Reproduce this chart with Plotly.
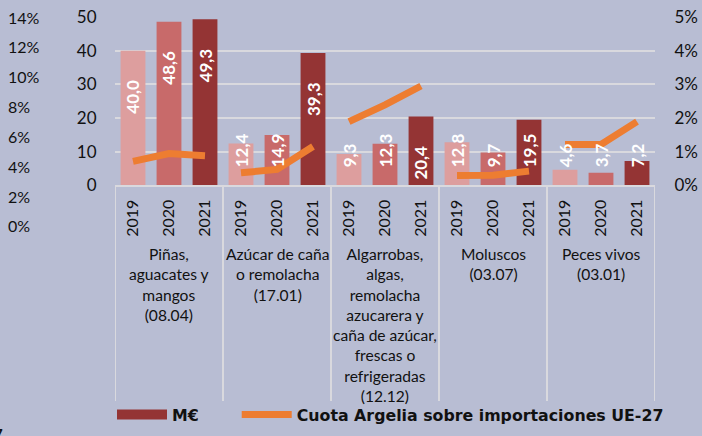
import plotly.graph_objects as go

# ---------------- data ----------------
groups = [
    "Piñas,<br>aguacates y<br>mangos<br>(08.04)",
    "Azúcar de caña<br>o remolacha<br>(17.01)",
    "Algarrobas,<br>algas,<br>remolacha<br>azucarera y<br>caña de azúcar,<br>frescas o<br>refrigeradas<br>(12.12)",
    "Moluscos<br>(03.07)",
    "Peces vivos<br>(03.01)",
]
years = ["2019", "2020", "2021"]
value_2019 = [40.0, 12.4, 9.3, 12.8, 4.6]
value_2020 = [48.6, 14.9, 12.3, 9.7, 3.7]
value_2021 = [49.3, 39.3, 20.4, 19.5, 7.2]
share_2019 = [0.71, 0.37, 1.89, 0.29, 1.21]
share_2020 = [0.94, 0.47, 2.39, 0.30, 1.21]
share_2021 = [0.88, 1.15, 2.95, 0.42, 1.89]
left_pct_ticks = [0, 2, 4, 6, 8, 10, 12, 14]
left_m_ticks = [0, 10, 20, 30, 40, 50]
right_pct_ticks = [0, 1, 2, 3, 4, 5]

year_colors = {"2019": "#DD9E9E", "2020": "#C86A6A", "2021": "#943434"}
BG = "#B8BDD3"
GRID = "#D9D9DE"
ORANGE = "#ED7D31"
FONT = "Lato"
INK = "#111111"

n_years = len(years)
series = {"2019": value_2019, "2020": value_2020, "2021": value_2021}
shares = [share_2019, share_2020, share_2021]

def pos(gi, yi):
    return gi * n_years + yi

fig = go.Figure()

for yi, y in enumerate(years):
    fig.add_trace(go.Bar(
        x=[pos(gi, yi) for gi in range(len(groups))],
        y=series[y], width=0.69,
        marker=dict(color=year_colors[y], line=dict(width=0)),
        name=y, showlegend=False,
    ))

fig.add_trace(go.Scatter(
    x=[None], y=[None], mode="lines",
    line=dict(color=year_colors["2021"], width=11),
    name="M€" + "\u00a0" * 6, showlegend=True, hoverinfo="skip",
))

for gi in range(len(groups)):
    fig.add_trace(go.Scatter(
        x=[pos(gi, yi) for yi in range(n_years)],
        y=[shares[yi][gi] for yi in range(n_years)],
        yaxis="y2", mode="lines",
        line=dict(color=ORANGE, width=7),
        name="Cuota Argelia sobre importaciones UE-27",
        showlegend=(gi == 0),
    ))

W, H = 702, 436
ml, mr, mt, mb = 4, 4, 17, 28
pw, ph = W - ml - mr, H - mt - mb

def px_x(p):
    return (p - ml) / pw

def px_y(p):
    return (H - mb - p) / ph

annotations = []
for yi, y in enumerate(years):
    for gi, v in enumerate(series[y]):
        txt = f"<b>{v:.1f}</b>".replace(".", ",")
        if v >= 20:
            # inside the bar, a little below its top
            a = dict(y=v, yanchor="middle", yshift=-46)
        else:
            # short bars: label sits just above the axis
            a = dict(y=0, yanchor="bottom", yshift=16)
        a.update(dict(
            x=pos(gi, yi), xref="x", yref="y", text=txt, textangle=-90,
            xanchor="center", showarrow=False,
            font=dict(family=FONT, size=17, color="white"),
        ))
        annotations.append(a)

for gi, g in enumerate(groups):
    annotations.append(dict(
        x=pos(gi, 1), xref="x", y=px_y(245), yref="paper",
        text=g, showarrow=False, xanchor="center", yanchor="top",
        align="center", font=dict(family=FONT, size=15.6, color=INK),
    ))

# extra left percentage scale (0%..14%)
pct_top, pct_bottom = 17, 228
for t in left_pct_ticks:
    ypx = pct_bottom - (pct_bottom - pct_top) * t / max(left_pct_ticks)
    annotations.append(dict(
        text=f"{t}%", xref="paper", yref="paper",
        x=px_x(6), y=px_y(ypx), xanchor="left", yanchor="middle",
        showarrow=False, font=dict(family=FONT, size=16, color=INK),
    ))

annotations.append(dict(
    text="<b>7</b>", xref="paper", yref="paper",
    x=px_x(5), y=px_y(427), xanchor="right", yanchor="top",
    showarrow=False, font=dict(family=FONT, size=15, color=INK),
))

shapes = []
for gi in range(len(groups) + 1):
    xb = gi * n_years - 0.5
    shapes.append(dict(
        type="line", xref="x", yref="paper", x0=xb, x1=xb,
        y0=px_y(187), y1=px_y(405),
        line=dict(color=GRID, width=2),
    ))

tickfont = dict(family=FONT, size=17, color=INK)

fig.update_layout(
    width=W, height=H,
    margin=dict(l=ml, r=mr, t=mt, b=mb),
    paper_bgcolor=BG, plot_bgcolor=BG,
    font=dict(family=FONT, size=15, color=INK),
    barmode="overlay",
    xaxis=dict(
        domain=[px_x(115), px_x(655)],
        range=[-0.5, len(groups) * n_years - 0.5],
        tickvals=[pos(gi, yi) for gi in range(len(groups)) for yi in range(n_years)],
        ticktext=[years[yi] for gi in range(len(groups)) for yi in range(n_years)],
        tickangle=-90,
        tickfont=dict(family=FONT, size=16, color=INK),
        ticks="outside", ticklen=6, tickcolor="rgba(0,0,0,0)",
        showline=True, linecolor=GRID, linewidth=2,
        showgrid=False, zeroline=False,
    ),
    yaxis=dict(
        domain=[px_y(187), 1],
        range=[0, 50], tickvals=left_m_ticks,
        ticktext=[str(t) for t in left_m_ticks],
        showgrid=True, gridcolor=GRID, gridwidth=2,
        zeroline=False, showline=False,
        ticks="outside", ticklen=14, tickcolor="rgba(0,0,0,0)",
        tickfont=tickfont,
    ),
    yaxis2=dict(
        overlaying="y", side="right",
        range=[0, 5], tickvals=right_pct_ticks,
        ticktext=[f"{t}%" for t in right_pct_ticks],
        showgrid=False, zeroline=False, showline=False,
        ticks="outside", ticklen=15, tickcolor="rgba(0,0,0,0)",
        tickfont=tickfont,
    ),
    legend=dict(
        orientation="h", x=px_x(112), xanchor="left",
        y=px_y(436), yanchor="bottom", tracegroupgap=0,
        font=dict(family="DejaVu Sans", size=15.8, color=INK, weight="bold"),
        bgcolor="rgba(0,0,0,0)", itemwidth=50,
    ),
    annotations=annotations,
    shapes=shapes,
)

fig.write_html("out.html", config={"displayModeBar": False},
               post_script="document.body.style.margin='0';")
